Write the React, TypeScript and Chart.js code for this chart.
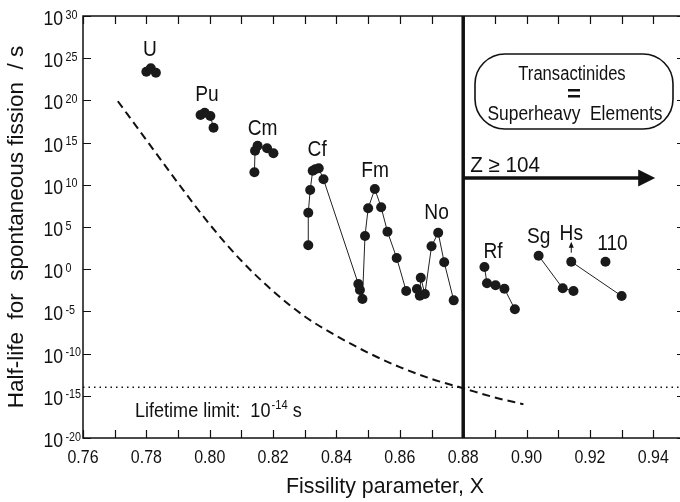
import React, { useEffect, useRef } from "react";
import { Chart, registerables } from "chart.js";

Chart.register(...registerables);

// ---------- data (half-lives given as log10 of seconds) ----------
const xTickValues = [0.76, 0.77, 0.78, 0.79, 0.8, 0.81, 0.82, 0.83, 0.84, 0.85, 0.86, 0.87, 0.88, 0.89, 0.9, 0.91, 0.92, 0.93, 0.94, 0.95];
const xTickLabels = ["0.76", "0.78", "0.80", "0.82", "0.84", "0.86", "0.88", "0.90", "0.92", "0.94"];
const xLabelValues = [0.76, 0.78, 0.8, 0.82, 0.84, 0.86, 0.88, 0.9, 0.92, 0.94];
const yTickExponents = [30, 25, 20, 15, 10, 5, 0, -5, -10, -15, -20];

const uX = [0.78, 0.7814, 0.783];
const uY = [23.4, 23.8, 23.28];
const puX = [0.7971, 0.7984, 0.8002, 0.8012];
const puY = [18.27, 18.54, 18.15, 16.77];
const cmX = [0.8141, 0.8143, 0.8151, 0.8181, 0.8201];
const cmY = [11.48, 14.04, 14.63, 14.32, 13.73];
const cfX = [0.8311, 0.8311, 0.8317, 0.8325, 0.8333, 0.8344, 0.8359, 0.8469];
const cfY = [2.83, 6.69, 9.38, 11.67, 11.84, 11.96, 10.65, -1.75];
const fmX = [0.8474, 0.8482, 0.849, 0.85, 0.8521, 0.8541, 0.8561, 0.859, 0.862];
const fmY = [-2.46, -3.53, 3.93, 7.22, 9.5, 7.33, 4.44, 1.33, -2.58];
const noX = [0.8654, 0.8663, 0.8666, 0.8679, 0.87, 0.8721, 0.874, 0.877];
const noY = [-2.35, -3.14, -1.01, -2.94, 2.71, 4.32, 0.82, -3.69];
const rfX = [0.8867, 0.8875, 0.8902, 0.893, 0.8963];
const rfY = [0.26, -1.67, -1.91, -2.31, -4.75];
const sgX = [0.9038, 0.9114, 0.9148];
const sgY = [1.6, -2.26, -2.58];
const hsX = [0.9141, 0.93];
const hsY = [0.89, -3.18];
const e110X = [0.9249];
const e110Y = [0.89];

// liquid-drop estimate (dashed curve)
const ldX = [0.771, 0.78, 0.79, 0.8, 0.81, 0.82, 0.83, 0.84, 0.85, 0.86, 0.87, 0.88, 0.89, 0.899];
const ldY = [19.9, 15.3, 10.2, 5.3, 1.0, -2.6, -5.6, -7.9, -9.9, -11.6, -13.0, -14.1, -15.2, -16.0];

const lifetimeLimit = -14; // log10 s
const transactinideX = 0.88;
const zArrowY = 10.8;
const zArrowEndX = 0.9406;

const elementLabels = ["U", "Pu", "Cm", "Cf", "Fm", "No", "Rf", "Sg", "Hs", "110"];
const elementLabelX = [0.7811, 0.7991, 0.8167, 0.8339, 0.8522, 0.8716, 0.8894, 0.9038, 0.9141, 0.9271];
const elementLabelY = [26.17, 20.84, 16.88, 14.32, 11.87, 6.93, 2.27, 4.05, 4.44, 3.26];

const FONT = "'Liberation Sans', Arial, sans-serif";

function pts(xs: number[], ys: number[]) {
  return xs.map((x, i) => ({ x, y: ys[i] }));
}

// draw text with a horizontal condensing factor (emulates a narrow face)
function txt(ctx: CanvasRenderingContext2D, s: string, x: number, y: number, size: number, align: string, sx: number) {
  ctx.save();
  ctx.font = `${size}px ${FONT}`;
  ctx.textAlign = "left";
  ctx.textBaseline = "alphabetic";
  const w = ctx.measureText(s).width * sx;
  const x0 = align === "center" ? x - w / 2 : align === "right" ? x - w : x;
  ctx.translate(x0, y);
  ctx.scale(sx, 1);
  ctx.fillText(s, 0, 0);
  ctx.restore();
  return w;
}

const seriesDefs: [number[], number[]][] = [
  [uX, uY], [puX, puY], [cmX, cmY], [cfX, cfY], [fmX, fmY], [noX, noY],
  [rfX, rfY], [sgX, sgY], [hsX, hsY], [e110X, e110Y],
];

const overlayPlugin = {
  id: "overlay",
  beforeDatasetsDraw(chart: any) {
    const { ctx, chartArea: a, scales } = chart;
    const xs = scales.x, ys = scales.y;
    ctx.save();
    ctx.strokeStyle = "#111";
    ctx.lineWidth = 1.5;
    ctx.strokeRect(a.left, a.top, a.right - a.left, a.bottom - a.top);
    ctx.lineWidth = 1.2;
    ctx.beginPath();
    for (const v of xTickValues) {
      const px = Math.round(xs.getPixelForValue(v)) + 0.5;
      ctx.moveTo(px, a.bottom);
      ctx.lineTo(px, a.bottom - 8);
      ctx.moveTo(px, a.top);
      ctx.lineTo(px, a.top + 8);
    }
    for (const e of yTickExponents) {
      const py = Math.round(ys.getPixelForValue(e)) + 0.5;
      ctx.moveTo(a.left, py);
      ctx.lineTo(a.left + 8, py);
      ctx.moveTo(a.right, py);
      ctx.lineTo(a.right - 8, py);
    }
    ctx.stroke();

    // tick labels
    ctx.fillStyle = "#111";
    xLabelValues.forEach((v, i) => {
      txt(ctx, xTickLabels[i], xs.getPixelForValue(v), a.bottom + 25, 19, "center", 0.84);
    });
    for (const e of yTickExponents) {
      const py = ys.getPixelForValue(e);
      txt(ctx, "10", 63, py + 9, 20.5, "right", 0.86);
      txt(ctx, String(e), 65.5, py + 2.5, 12.5, "left", 0.86);
    }

    // axis titles
    txt(ctx, "Fissility parameter, X", 385, 493, 22, "center", 0.97);
    ctx.save();
    ctx.translate(23, (a.top + a.bottom) / 2);
    ctx.rotate(-Math.PI / 2);
    txt(ctx, "Half-life  for  spontaneous fission  / s", 0, 0, 22.5, "center", 1.0);
    ctx.restore();
    ctx.restore();
  },
  afterDatasetsDraw(chart: any) {
    const { ctx, scales } = chart;
    const xs = scales.x, ys = scales.y;
    ctx.save();
    ctx.fillStyle = "#111";
    ctx.strokeStyle = "#111";

    // arrow head for Z >= 104
    const tipX = xs.getPixelForValue(zArrowEndX);
    const ay = ys.getPixelForValue(zArrowY);
    ctx.beginPath();
    ctx.moveTo(tipX, ay);
    ctx.lineTo(tipX - 17, ay - 8.5);
    ctx.lineTo(tipX - 17, ay + 8.5);
    ctx.closePath();
    ctx.fill();

    txt(ctx, "Z \u2265 104", xs.getPixelForValue(transactinideX) + 7, ay - 6.5, 21.5, "left", 0.96);

    // small arrow above Hs
    const hx = xs.getPixelForValue(hsX[0]);
    const hy0 = ys.getPixelForValue(hsY[0]) - 9;
    ctx.lineWidth = 1;
    ctx.beginPath();
    ctx.moveTo(hx, hy0);
    ctx.lineTo(hx, hy0 - 7);
    ctx.stroke();
    ctx.beginPath();
    ctx.moveTo(hx, hy0 - 11);
    ctx.lineTo(hx - 2.5, hy0 - 5);
    ctx.lineTo(hx + 2.5, hy0 - 5);
    ctx.closePath();
    ctx.fill();

    // element labels
    elementLabels.forEach((t, i) => {
      txt(ctx, t, xs.getPixelForValue(elementLabelX[i]), ys.getPixelForValue(elementLabelY[i]) + 8, 22, "center", 0.87);
    });

    // Lifetime limit text
    const lx = xs.getPixelForValue(0.7764);
    const lyBase = ys.getPixelForValue(-17.48);
    const w = txt(ctx, "Lifetime limit:  10", lx, lyBase, 21, "left", 0.86);
    const w2 = txt(ctx, "-14", lx + w + 1, lyBase - 8, 13, "left", 0.86);
    txt(ctx, " s", lx + w + 1 + w2, lyBase, 21, "left", 0.86);

    // rounded box
    const bx0 = 475, bx1 = 673, by0 = 54, by1 = 129, r = 30;
    ctx.lineWidth = 1.6;
    ctx.beginPath();
    ctx.roundRect(bx0, by0, bx1 - bx0, by1 - by0, r);
    ctx.stroke();
    const cx = (bx0 + bx1) / 2;
    txt(ctx, "Transactinides", cx - 2, 80, 20, "center", 0.83);
    txt(ctx, "Superheavy  Elements", cx + 1, 120, 20, "center", 0.87);
    ctx.fillRect(cx - 6, 89, 12, 2.5);
    ctx.fillRect(cx - 6, 95, 12, 2.5);
    ctx.restore();
  },
};

export default function App() {
  const ref = useRef<HTMLCanvasElement | null>(null);
  useEffect(() => {
    document.body.style.margin = "0";
    const canvas = ref.current;
    if (!canvas) return;
    const datasets: any[] = [];
    datasets.push({
      type: "line",
      data: pts(ldX, ldY),
      borderColor: "#111",
      borderWidth: 2,
      borderDash: [8, 5],
      pointRadius: 0,
      tension: 0.4,
      cubicInterpolationMode: "monotone",
    });
    datasets.push({
      type: "line",
      data: [{ x: 0.76, y: lifetimeLimit }, { x: 0.95, y: lifetimeLimit }],
      borderColor: "#111",
      borderWidth: 1.5,
      borderDash: [1.5, 4],
      pointRadius: 0,
    });
    datasets.push({
      type: "line",
      data: [{ x: transactinideX, y: -20 }, { x: transactinideX, y: 30 }],
      borderColor: "#111",
      borderWidth: 3.5,
      pointRadius: 0,
    });
    datasets.push({
      type: "line",
      data: [{ x: transactinideX, y: zArrowY }, { x: zArrowEndX - 0.004, y: zArrowY }],
      borderColor: "#111",
      borderWidth: 3.5,
      pointRadius: 0,
    });
    seriesDefs.forEach(([xs, ys]) => {
      datasets.push({
        type: "scatter",
        data: pts(xs, ys),
        showLine: true,
        borderColor: "#222",
        borderWidth: 1,
        backgroundColor: "#1a1a1a",
        pointBackgroundColor: "#1a1a1a",
        pointBorderColor: "#1a1a1a",
        pointRadius: 5,
        pointBorderWidth: 0,
      });
    });
    const chart = new Chart(canvas, {
      type: "scatter",
      data: { datasets },
      options: {
        responsive: false,
        maintainAspectRatio: false,
        animation: false,
        layout: { padding: { left: 83, right: 3, top: 16, bottom: 64 } },
        plugins: { legend: { display: false }, tooltip: { enabled: false } },
        scales: {
          x: { type: "linear", min: 0.76, max: 0.95, display: false },
          y: { type: "linear", min: -20, max: 30, display: false },
        },
      },
      plugins: [overlayPlugin],
    });
    return () => chart.destroy();
  }, []);
  return (
    <div style={{ width: 680, height: 502, overflow: "hidden", background: "#fff" }}>
      <canvas ref={ref} width={690} height={502} style={{ display: "block" }} />
    </div>
  );
}
